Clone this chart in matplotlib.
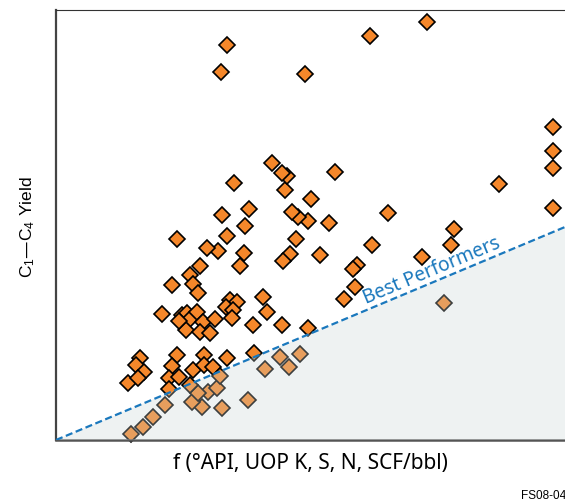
import matplotlib
matplotlib.use("Agg")
import matplotlib.pyplot as plt
import numpy as np

plt.rcParams['mathtext.default'] = 'regular'

# Data (arbitrary units)
x_vals = [171, 165, 249, 314, 371, 497, 497, 497, 497, 443,
          398, 395, 366, 332, 316, 301, 297, 299, 288, 279,
          273, 264, 255, 252, 242, 236, 240, 234, 227, 229,
          231, 226, 216, 252, 226, 197, 211, 207, 193, 178,
          166, 189, 171, 188, 184, 162, 174, 181, 170, 177,
          176, 121, 151, 144, 134, 116, 137, 142, 106, 126,
          131, 134, 141, 147, 130, 144, 154, 159, 123, 84,
          80, 88, 72, 82, 121, 116, 113, 123, 137, 148,
          148, 157, 171, 198,
          388, 224, 244, 209, 233, 192, 166, 146, 136, 152,
          142, 161, 134, 164, 113, 109, 97, 87, 75]
y_vals = [395, 368, 366, 404, 418, 313, 289, 272, 232, 256,
          211, 195, 183, 227, 195, 175, 171, 153, 141, 268,
          217, 185, 241, 219, 223, 228, 201, 186, 179, 250,
          264, 267, 277, 112, 115, 115, 128, 143, 231, 257,
          225, 214, 204, 187, 174, 189, 140, 138, 133, 130,
          122, 201, 192, 174, 165, 155, 156, 147, 126, 125,
          127, 121, 128, 118, 110, 108, 107, 121, 119, 82,
          75, 68, 57, 62, 85, 74, 62, 63, 70, 85,
          75, 73, 82, 87,
          137, 83, 86, 71, 73, 40, 32, 33, 38, 48,
          47, 52, 55, 64, 51, 35, 23, 13, 6]

best_line_x = [0, 509]
best_line_y = [0, 213]
xlim = (0, 509)
ylim = (0, 430)

fig = plt.figure(figsize=(5.65, 5.01), dpi=100)
ax = fig.add_axes([56/565, 61/501, 509/565, 430/501])
ax.set_xlim(*xlim)
ax.set_ylim(*ylim)

ax.plot(x_vals, y_vals, linestyle='none', marker='D', markersize=7.9,
        markerfacecolor='#f5872a', markeredgecolor='black', markeredgewidth=1.2,
        zorder=2, clip_on=False)

# translucent shaded region below the line
poly_x = [best_line_x[0], best_line_x[1], best_line_x[1]]
poly_y = [best_line_y[0], best_line_y[1], 0]
ax.fill(poly_x, poly_y, color=(0.79, 0.83, 0.83), alpha=0.30, lw=0, zorder=3)

ax.plot(best_line_x, best_line_y, linestyle=(0, (3.2, 1.6)), color='#1a78bd',
        lw=1.6, zorder=4)

angle = np.degrees(np.arctan2(best_line_y[1] - best_line_y[0],
                              best_line_x[1] - best_line_x[0]))
ax.text(310, 136, 'Best Performers', rotation=angle, rotation_mode='anchor',
        ha='left', va='baseline', color='#1a78bd', fontsize=13.8,
        family='Noto Sans', zorder=5)

ax.set_xticks([])
ax.set_yticks([])
ax.spines['right'].set_visible(False)
ax.spines['left'].set_color('#444444')
ax.spines['left'].set_linewidth(1.6)
ax.spines['bottom'].set_color('#555555')
ax.spines['bottom'].set_linewidth(1.8)
ax.spines['top'].set_color('#333333')
ax.spines['top'].set_linewidth(0.8)

fig.text(28/565, 1 - 227/501, 'C$_1$—C$_4$ Yield', rotation=90,
         ha='center', va='center', fontsize=12.5, family='Liberation Sans')
fig.text(310/565, 1 - 463/501, 'f (°API, UOP K, S, N, SCF/bbl)',
         ha='center', va='center', fontsize=15, family='Noto Sans')
fig.text(566/565, 1 - 496/501, 'FS08-04', ha='right', va='center',
         fontsize=8.5, family='Liberation Sans')

fig.savefig('out.png', dpi=100)
